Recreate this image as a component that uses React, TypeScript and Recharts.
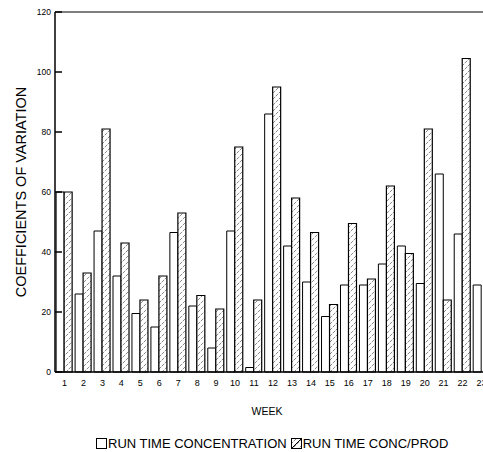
import React from 'react';
import { BarChart, Bar, XAxis, YAxis, ReferenceLine, Legend } from 'recharts';

const weeks = ['1', '2', '3', '4', '5', '6', '7', '8', '9', '10', '11', '12', '13', '14', '15', '16', '17', '18', '19', '20', '21', '22', '23'];
const runTimeConcentration = [60, 26, 47, 32, 19.5, 15, 46.5, 22, 8, 47, 1.5, 86, 42, 30, 18.5, 29, 29, 36, 42, 29.5, 66, 46, 29];
const runTimeConcProd = [60, 33, 81, 43, 24, 32, 53, 25.5, 21, 75, 24, 95, 58, 46.5, 22.5, 49.5, 31, 62, 39.5, 81, 24, 104.5, null];
const yTicks = [0, 20, 40, 60, 80, 100, 120];

const data = weeks.map((week, i) => ({
  week,
  conc: runTimeConcentration[i],
  concProd: runTimeConcProd[i],
}));

const font = '"Liberation Sans", Arial, Helvetica, sans-serif';

const YTick = (props: any) => {
  const { x, y, payload } = props;
  return (
    <g>
      <line x1={x + 4} x2={x + 11} y1={y} y2={y} stroke="#000" strokeWidth={1.5} />
      <text x={x} y={y} dy={3} textAnchor="end" fontSize={8.5} fontFamily={font} fill="#000">
        {payload.value}
      </text>
    </g>
  );
};

const LegendContent = () => (
  <div
    style={{
      height: 35,
      boxSizing: 'border-box',
      paddingTop: 18,
      paddingLeft: 96,
      display: 'flex',
      alignItems: 'center',
      fontFamily: font,
      fontSize: 13,
      color: '#000',
      lineHeight: '14px',
      whiteSpace: 'nowrap',
    }}
  >
    <svg width={11} height={11} style={{ marginRight: 1 }}>
      <rect x={0.5} y={0.5} width={10} height={10} fill="#fff" stroke="#000" />
    </svg>
    <span>RUN TIME CONCENTRATION</span>
    <svg width={11} height={11} style={{ marginLeft: 4, marginRight: 1 }}>
      <rect x={0.5} y={0.5} width={10} height={10} fill="url(#hatch)" stroke="#000" />
      <line x1={1} y1={10} x2={10} y2={1} stroke="#000" />
    </svg>
    <span>RUN TIME CONC/PROD</span>
  </div>
);

export default function App() {
  return (
    <div style={{ position: 'absolute', left: 0, top: 0, width: 483, height: 452, overflow: 'hidden', background: '#fff' }}>
      <BarChart
        width={500}
        height={452}
        data={data}
        margin={{ top: 12, right: 9, left: 0, bottom: 0 }}
        barCategoryGap="6%"
        barGap={0}
      >
        <defs>
          <pattern id="hatch" patternUnits="userSpaceOnUse" width={6} height={6}>
            <rect width={6} height={6} fill="#fff" />
            <path d="M0,6 L6,0 M-1,1 L1,-1 M5,7 L7,5" stroke="#555" strokeWidth={0.7} strokeDasharray="3 1" />
          </pattern>
        </defs>
        <ReferenceLine y={120} stroke="#000" strokeWidth={1.2} />
        <XAxis
          dataKey="week"
          interval={0}
          tickLine={false}
          axisLine={{ stroke: '#000', strokeWidth: 1.5 }}
          tick={{ fontSize: 9, fill: '#000', fontFamily: font }}
          height={45}
          label={{ value: 'WEEK', position: 'insideBottom', offset: 2, dx: -6, fontSize: 10.5, fill: '#000', fontFamily: font }}
        />
        <YAxis
          domain={[0, 120]}
          ticks={yTicks}
          width={55}
          tickSize={0}
          tickMargin={4}
          tickLine={false}
          axisLine={{ stroke: '#000', strokeWidth: 1.5 }}
          tick={<YTick />}
          label={{
            value: 'COEFFICIENTS OF VARIATION',
            angle: -90,
            position: 'center',
            dx: -7,
            fontSize: 14.5,
            fill: '#000',
            fontFamily: font,
          }}
        />
        <Legend verticalAlign="bottom" content={<LegendContent />} wrapperStyle={{ left: 0, width: 500 }} />
        <Bar dataKey="conc" fill="#fff" stroke="#000" strokeWidth={1} isAnimationActive={false} />
        <Bar dataKey="concProd" fill="url(#hatch)" stroke="#000" strokeWidth={1.2} isAnimationActive={false} />
      </BarChart>
    </div>
  );
}
